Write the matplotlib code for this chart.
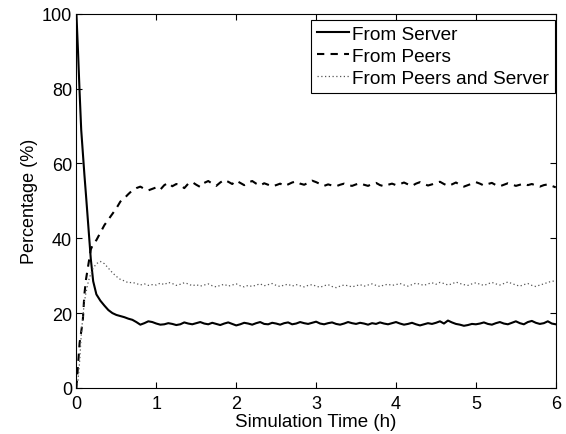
import numpy as np
import matplotlib
matplotlib.use("Agg")
import matplotlib.pyplot as plt

plt.rcParams['font.family'] = ['Liberation Sans', 'DejaVu Sans']

# time axis (hours): fine early points then 0.05 h steps
time_early = [0, 0.02, 0.04, 0.06, 0.08, 0.10, 0.12, 0.15, 0.18, 0.21, 0.25, 0.30, 0.35, 0.40, 0.45]
time_late = list(np.round(np.arange(0.5, 6.001, 0.05), 2))
time = time_early + time_late

server_early = [100, 90, 79, 69, 63, 57, 51.5, 43, 34.5, 28.5, 25, 23.3, 22, 20.8, 20.0]
server_late = [19.5, 19.2, 18.9, 18.5, 18.2, 17.6, 16.9, 17.3, 17.8, 17.6,
               17.2, 16.9, 17.0, 17.3, 17.1, 16.8, 17.0, 17.5, 17.2, 17.0,
               17.3, 17.6, 17.2, 17.0, 17.4, 17.1, 16.8, 17.2, 17.5, 17.1,
               16.7, 17.0, 17.4, 17.2, 16.9, 17.3, 17.6, 17.1, 17.0, 17.4,
               17.2, 16.9, 17.3, 17.5, 17.0, 17.2, 17.6, 17.3, 17.1, 17.4,
               17.7, 17.2, 17.0, 17.3, 17.5, 17.1, 16.9, 17.2, 17.6, 17.3,
               17.1, 17.4, 17.2, 16.9, 17.3, 17.1, 17.5, 17.2, 17.0, 17.3,
               17.6, 17.2, 16.9, 17.1, 17.4, 17.0, 16.7, 17.0, 17.3, 17.1,
               17.4, 17.8, 17.2, 18.0, 17.5, 17.1, 16.9, 16.6, 16.8, 17.1,
               17.0, 17.2, 17.5, 17.1, 16.9, 17.3, 17.6, 17.2, 17.0, 17.4,
               17.8, 17.3, 17.0, 17.6, 17.9, 17.4, 17.1, 17.3, 17.8, 17.2,
               17.0]
from_server = server_early + server_late

peers_early = [0, 6, 12, 15, 18, 25, 29, 33, 37, 38.5, 39.5, 41.5, 43.5, 45, 46.5]
peers_late = [48.0, 49.8, 50.7, 51.8, 52.8, 53.4, 53.8, 53.2, 52.8, 53.2,
              53.6, 53.0, 54.2, 54.8, 53.9, 54.5, 54.2, 53.4, 54.6, 55.0,
              54.3, 53.7, 54.8, 55.3, 54.6, 54.0, 54.9, 55.6, 55.1, 54.5,
              55.4, 54.8, 54.2, 54.9, 55.3, 54.6, 54.1, 54.7, 54.3, 53.9,
              54.2, 54.6, 54.0, 54.4, 54.9, 55.2, 54.6, 54.3, 54.8, 55.4,
              55.0, 54.5, 54.0, 54.4, 54.1, 53.9, 54.3, 54.6, 54.2, 54.0,
              54.4, 54.7, 54.3, 54.0, 54.5, 54.8, 54.2, 53.9, 54.3, 54.6,
              54.2, 54.5, 54.9, 54.4, 54.0, 54.6, 55.0, 54.5, 54.1, 54.4,
              54.8, 55.1, 54.5, 54.0, 54.4, 54.9, 54.3, 53.8, 54.2, 54.6,
              55.0, 54.6, 54.1, 54.5, 54.8, 54.2, 53.9, 54.3, 54.7, 54.4,
              54.0, 54.3, 54.6, 54.2, 54.5, 54.1, 53.8, 54.2, 54.4, 54.0,
              53.6]
from_peers = peers_early + peers_late

both_early = [0, 2, 7, 14, 19, 23, 25.5, 28.5, 30.5, 32, 33.2, 33.8, 33.2, 32, 30.8]
both_late = [29.8, 29.0, 28.6, 28.1, 28.2, 27.9, 27.5, 27.8, 27.4, 27.6,
             27.5, 28.0, 27.6, 28.2, 27.9, 27.4, 27.7, 28.1, 27.8, 27.3,
             27.6, 27.2, 27.5, 27.8, 27.3, 27.0, 27.4, 27.7, 27.2, 27.5,
             27.8, 27.3, 27.0, 27.4, 27.1, 27.5, 27.8, 27.3, 27.6, 27.9,
             27.4, 27.1, 27.5, 27.7, 27.2, 27.6, 27.3, 27.0, 27.4, 27.6,
             27.2, 26.9, 27.3, 27.6, 27.1, 26.8, 27.2, 27.5, 27.3, 27.0,
             27.3, 27.6, 27.2, 27.5, 27.8, 27.4, 27.1, 27.5, 27.7, 27.4,
             27.6, 27.9, 27.5, 27.2, 27.6, 28.0, 27.7, 27.4, 27.8, 28.1,
             27.7, 28.2, 27.9, 27.5, 27.8, 28.3, 27.9, 27.6, 27.4, 27.8,
             28.1, 27.7, 27.4, 27.8, 28.2, 27.8, 27.5, 27.9, 28.3, 27.9,
             27.5, 27.2, 27.6, 27.9, 27.4, 27.1, 27.5, 27.8, 28.2, 28.5,
             28.6]
from_both = both_early + both_late

labels = ["From Server", "From Peers", "From Peers and Server"]
xticks = [0, 1, 2, 3, 4, 5, 6]
yticks = [0, 20, 40, 60, 80, 100]

fig = plt.figure(figsize=(5.66, 4.35), dpi=100)
ax = fig.add_axes([0.135, 0.106, 0.847, 0.86])

ax.plot(time, from_server, color='black', linestyle='-', linewidth=1.5, label=labels[0])
ax.plot(time, from_peers, color='black', linestyle=(0, (3.5, 3)), linewidth=1.5, label=labels[1])
ax.plot(time, from_both, color='#555555', linestyle=(0, (1, 2)), linewidth=0.9, label=labels[2])

ax.set_xlim(0, 6)
ax.set_ylim(0, 100)
ax.set_xticks(xticks)
ax.set_yticks(yticks)
ax.tick_params(direction='in', top=True, right=True, labelsize=13, length=4)
ax.tick_params(axis='x', pad=5)
ax.tick_params(axis='y', pad=3)
ax.set_xlabel("Simulation Time (h)", fontsize=13.5, labelpad=1)
ax.set_ylabel("Percentage (%)", fontsize=13, labelpad=3)
for s in ax.spines.values():
    s.set_linewidth(0.8)

leg = ax.legend(loc='upper right', bbox_to_anchor=(0.998, 0.984), fontsize=13.7,
                handlelength=1.7, handletextpad=0.15, borderaxespad=0.0, borderpad=0.3,
                labelspacing=0.25, fancybox=False, framealpha=1, edgecolor='black')
leg.get_frame().set_linewidth(0.8)

fig.savefig("out.png", dpi=100)
